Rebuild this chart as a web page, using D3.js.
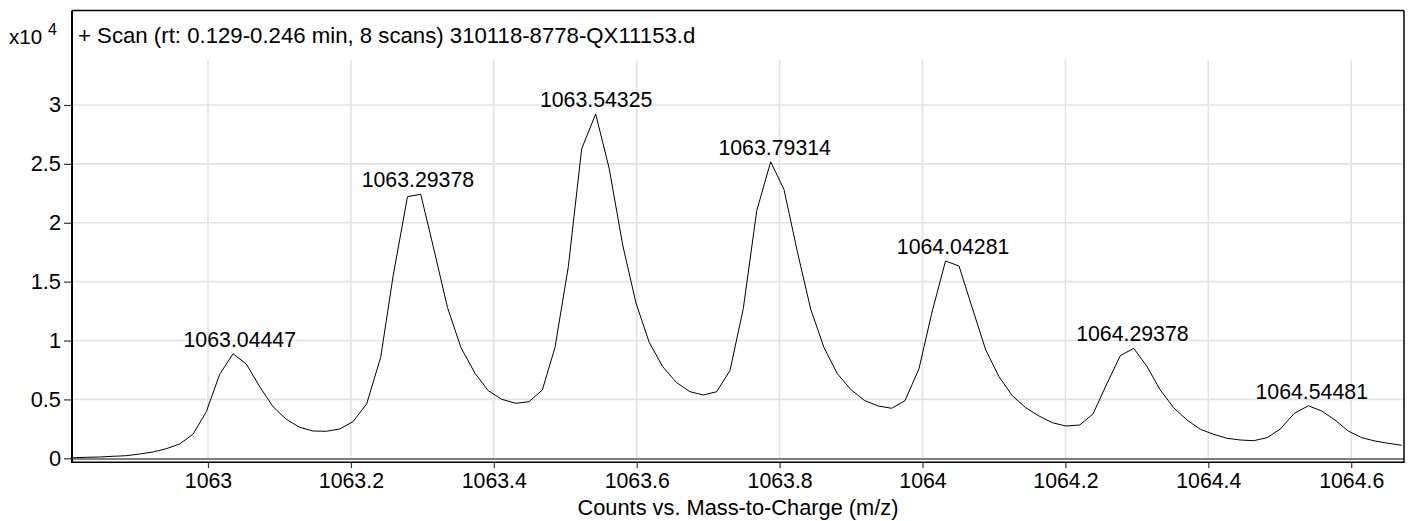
<!DOCTYPE html>
<html><head><meta charset="utf-8">
<script src="https://cdn.jsdelivr.net/npm/d3@7"></script>
<style>
html,body{margin:0;padding:0;background:#fff;}
svg{display:block;font-family:"Liberation Sans",Arial,Helvetica,sans-serif;}
</style></head><body>
<svg id="chart" width="1408" height="521"></svg>
<script>
// m/z of each profile point
const mz = [
1062.8109,1062.8297,1062.8483,1062.8669,1062.8857,1062.9043,1062.9230,1062.9416,1062.9603,1062.9790,
1062.9976,1063.0164,1063.0350,1063.0536,1063.0724,1063.0910,1063.1096,1063.1283,1063.1470,1063.1656,
1063.1843,1063.2029,1063.2221,1063.2417,1063.2593,1063.2792,1063.2977,1063.3153,1063.3352,1063.3541,
1063.3737,1063.3923,1063.4111,1063.4307,1063.4493,1063.4679,1063.4857,1063.5043,1063.5230,1063.5426,
1063.5615,1063.5804,1063.5990,1063.6176,1063.6364,1063.6560,1063.6746,1063.6932,1063.7120,1063.7306,
1063.7492,1063.7680,1063.7875,1063.8062,1063.8248,1063.8435,1063.8621,1063.8808,1063.8999,1063.9188,
1063.9381,1063.9569,1063.9755,1063.9951,1064.0129,1064.0322,1064.0511,1064.0697,1064.0885,1064.1071,
1064.1257,1064.1444,1064.1631,1064.1817,1064.2004,1064.2200,1064.2386,1064.2572,1064.2768,1064.2956,
1064.3142,1064.3328,1064.3516,1064.3702,1064.3888,1064.4076,1064.4262,1064.4448,1064.4635,1064.4822,
1064.5008,1064.5204,1064.5400,1064.5587,1064.5773,1064.5959,1064.6147,1064.6333,1064.6519,1064.6707
];
// counts at each point
const counts = [
51,85,110,170,221,365,535,815,1214,2038,
3957,7132,8882,8007,6080,4381,3311,2632,2318,2293,
2488,3108,4628,8576,15564,22213,22425,17967,12804,9391,
7217,5740,5010,4670,4806,5799,9425,16269,26280,29235,
24607,18111,13187,9833,7778,6419,5655,5375,5655,7455,
12720,21015,25184,22815,17559,12677,9408,7183,5825,4908,
4441,4246,4891,7599,12312,16753,16328,12762,9196,6929,
5315,4296,3592,3023,2743,2827,3762,6224,8712,9340,
7795,5799,4296,3252,2462,2038,1698,1554,1494,1749,
2488,3821,4458,4016,3252,2318,1749,1469,1274,1104
];
const peakLabels = ["1063.04447","1063.29378","1063.54325","1063.79314","1064.04281","1064.29378","1064.54481"];
const xTicks = [1063,1063.2,1063.4,1063.6,1063.8,1064,1064.2,1064.4,1064.6];
const yTicks = [0,5000,10000,15000,20000,25000,30000];
const titleText = "+ Scan (rt: 0.129-0.246 min, 8 scans) 310118-8778-QX11153.d";
const xAxisTitle = "Counts vs. Mass-to-Charge (m/z)";
const yExpBase = "x10";
const yExp = "4";

const svg = d3.select("#chart");
const L = 72, R = 1404, T = 60, B = 458.3, FT = 10.5;
const x = d3.scaleLinear().domain([1062.80966, 1064.67390]).range([L, R]);
const y = d3.scaleLinear().domain([0, 33820]).range([B, T]);
const FS = 21.3;

// grid
const grid = svg.append("g").attr("stroke", "#e3e3e3").attr("stroke-width", 1.6);
grid.selectAll("line.v").data(xTicks).join("line")
  .attr("x1", d => x(d)).attr("x2", d => x(d)).attr("y1", T).attr("y2", B);
grid.selectAll("line.h").data(yTicks.filter(d => d > 0)).join("line")
  .attr("x1", L).attr("x2", R).attr("y1", d => y(d)).attr("y2", d => y(d));

// clip
svg.append("clipPath").attr("id", "clip").append("rect")
  .attr("x", L).attr("y", FT).attr("width", R - L).attr("height", B - FT);

// spectrum
const pts = mz.map((m, i) => [m, counts[i]]);
svg.append("path").datum(pts)
  .attr("clip-path", "url(#clip)")
  .attr("fill", "none").attr("stroke", "#000").attr("stroke-width", 1)
  .attr("d", d3.line().x(d => x(d[0])).y(d => y(d[1])));

// peak labels
svg.append("g").selectAll("text").data(peakLabels).join("text")
  .attr("x", d => x(+d))
  .attr("y", d => {
    const m = +d;
    const near = pts.filter(p => Math.abs(p[0] - m) < 0.03).map(p => p[1]);
    return y(d3.max(near)) - 7;
  })
  .attr("text-anchor", "middle").attr("font-size", FS).attr("fill", "#000")
  .text(d => d);

// y axis
const yAxis = svg.append("g").attr("transform", `translate(${L},0)`)
  .call(d3.axisLeft(y).tickValues(yTicks).tickSize(8).tickPadding(3).tickFormat(d => String(d / 10000)));
yAxis.select(".domain").remove();
yAxis.selectAll(".tick line").attr("stroke", "#333").attr("stroke-width", 1.2);
yAxis.selectAll(".tick text").attr("font-size", FS + 0.5).attr("fill", "#000")
  .attr("font-family", "'Liberation Sans',Arial,sans-serif");

// x axis
const xAxis = svg.append("g").attr("transform", `translate(0,462)`)
  .call(d3.axisBottom(x).tickValues(xTicks).tickSize(6).tickPadding(5).tickFormat(d => String(+d.toFixed(1))));
xAxis.select(".domain").remove();
xAxis.selectAll(".tick line").attr("stroke", "#333").attr("stroke-width", 1.2);
xAxis.selectAll(".tick text").attr("font-size", FS).attr("fill", "#000")
  .attr("font-family", "'Liberation Sans',Arial,sans-serif");

// frame
const frame = svg.append("g").attr("fill", "none").attr("stroke", "#000");
frame.append("line").attr("x1", L).attr("x2", L).attr("y1", FT).attr("y2", 463).attr("stroke-width", 2);
frame.append("line").attr("x1", L).attr("x2", R).attr("y1", FT).attr("y2", FT).attr("stroke-width", 1.5);
frame.append("line").attr("x1", R).attr("x2", R).attr("y1", FT).attr("y2", 463).attr("stroke-width", 1.5);
frame.append("line").attr("x1", L).attr("x2", R).attr("y1", 459).attr("y2", 459).attr("stroke-width", 1.2);
frame.append("line").attr("x1", L).attr("x2", R).attr("y1", 462.3).attr("y2", 462.3).attr("stroke-width", 1.6);

// title
svg.append("text").attr("x", 78).attr("y", 43).attr("font-size", 22.2).attr("fill", "#000").text(titleText);
const yl = svg.append("text").attr("x", 9).attr("y", 44).attr("font-size", 20.5).attr("fill", "#000");
yl.append("tspan").text(yExpBase);
yl.append("tspan").attr("dx", 6).attr("dy", -9).attr("font-size", 16).text(yExp);

// x axis title
svg.append("text").attr("x", (L + R) / 2).attr("y", 515).attr("text-anchor", "middle")
  .attr("font-size", 21.8).attr("fill", "#000").text(xAxisTitle);
</script>
</body></html>
